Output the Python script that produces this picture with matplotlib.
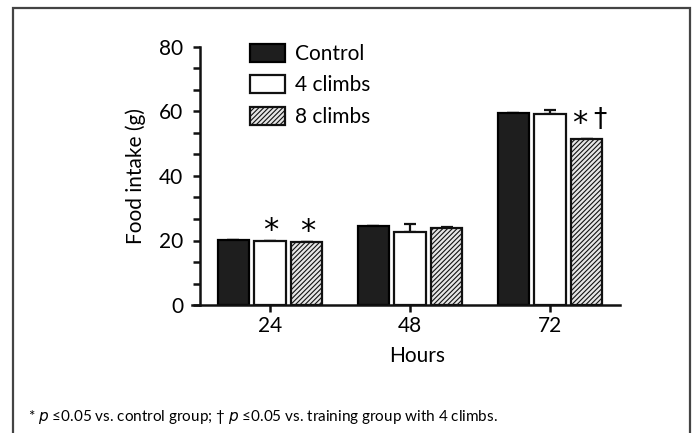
import matplotlib
matplotlib.use("Agg")
import matplotlib.pyplot as plt
import numpy as np
from matplotlib.patches import Rectangle
from matplotlib.ticker import AutoMinorLocator

plt.rcParams['font.family'] = ['Lato', 'DejaVu Sans']
plt.rcParams['hatch.color'] = '#555555'
plt.rcParams['hatch.linewidth'] = 0.8

hours = ['24', '48', '72']
groups = ['Control', '4 climbs', '8 climbs']
control = [20.2, 24.6, 59.4]
climbs4 = [19.8, 22.5, 59.1]
climbs8 = [19.5, 23.8, 51.6]
err_control = [0.0, 0.0, 0.2]
err_climbs4 = [0.0, 2.5, 1.4]
err_climbs8 = [0.0, 0.4, 0.0]
marks_climbs4 = ['*', '', '']
marks_climbs8 = ['*', '', '*†']
footnote = "* $p$ \u22640.05 vs. control group; \u2020 $p$ \u22640.05 vs. training group with 4 climbs."

W, H = 694, 433
fig = plt.figure(figsize=(W / 100, H / 100), dpi=100)
ax = fig.add_axes([192 / W, (H - 305) / H, (620 - 192) / W, (305 - 47) / H])

x = np.arange(len(hours))
pitch = 0.262
width = 0.222
series = [
    (control, err_control, dict(facecolor='#1e1e1e', edgecolor='black', hatch=None)),
    (climbs4, err_climbs4, dict(facecolor='white', edgecolor='#111111', hatch=None)),
    (climbs8, err_climbs8, dict(facecolor='#e6e6e6', edgecolor='#111111', hatch='///////')),
]
for i, (vals, errs, style) in enumerate(series):
    xs = x + (i - 1) * pitch
    ax.bar(xs, vals, width, linewidth=1.6, label=groups[i], zorder=2, **style)
    ax.errorbar(xs, vals, yerr=[np.zeros(len(vals)), errs], fmt='none',
                ecolor='#111111', elinewidth=1.6, capsize=4.5, capthick=1.6, zorder=1)

px = 0.72  # points per pixel at 100 dpi
for i, marks in ((1, marks_climbs4), (2, marks_climbs8)):
    vals = series[i][0]
    errs = series[i][1]
    for j, m in enumerate(marks):
        if not m:
            continue
        xs = x[j] + (i - 1) * pitch
        top = vals[j] + errs[j]
        if len(m) == 1:
            ax.annotate(m, (xs, top), xytext=(1 * px, 11 * px), textcoords='offset points',
                        ha='center', va='center', fontsize=22, family=['DejaVu Sans'])
        else:
            ax.annotate(m[0], (xs, top), xytext=(-7 * px, 15 * px), textcoords='offset points',
                        ha='center', va='center', fontsize=22, family=['DejaVu Sans'])
            ax.annotate(m[1], (xs, top), xytext=(13 * px, 19 * px), textcoords='offset points',
                        ha='center', va='center', fontsize=19, family=['DejaVu Sans'])

ax.set_ylim(0, 80)
ax.set_xlim(-0.557, 2.5)
ax.set_yticks([0, 20, 40, 60, 80])
ax.yaxis.set_minor_locator(AutoMinorLocator(3))
ax.set_xticks(x)
ax.set_xticklabels(hours)
ax.spines['left'].set_position(('data', -0.5))
for s in ('top', 'right'):
    ax.spines[s].set_visible(False)
for s in ('left', 'bottom'):
    ax.spines[s].set_linewidth(1.8)
    ax.spines[s].set_color('#111111')
ax.tick_params(axis='both', which='major', length=5, width=1.8, labelsize=15, color='#111111')
ax.tick_params(axis='y', which='major', pad=7)
ax.tick_params(axis='x', which='major', pad=3)
ax.tick_params(axis='y', which='minor', length=5, width=1.8, color='#111111')
ax.set_ylabel('Food intake (g)', fontsize=15)
ax.yaxis.set_label_coords((146 - 192) / (620 - 192), 0.5)
ax.set_xlabel('Hours', fontsize=15)
ax.xaxis.set_label_coords((417 - 192) / (620 - 192), (305 - 346) / (305 - 47))

leg = ax.legend(loc='upper left', bbox_to_anchor=((242 - 192) / 428, 1.045), frameon=False,
                fontsize=15, handlelength=1.65, handleheight=0.95, labelspacing=0.55,
                handletextpad=0.5, borderaxespad=0)

fig.text(28 / W, 1 - 417 / H, footnote, fontsize=11, ha='left', va='center')

fig.patches.append(Rectangle((12.5 / W, -0.1), (690 - 12.5) / W, 1.1 - 8 / H,
                             transform=fig.transFigure, fill=False, edgecolor='#444444',
                             linewidth=1.6))

fig.savefig('out.png', dpi=100)
